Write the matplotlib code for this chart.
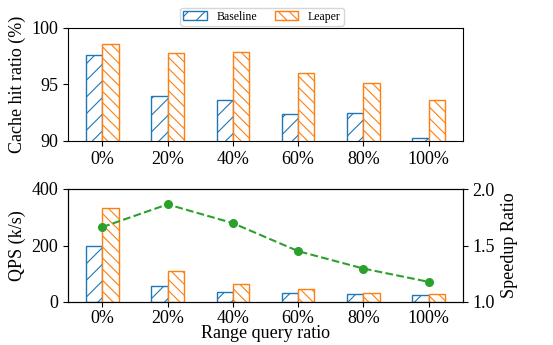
import numpy as np
import matplotlib.pyplot as plt
from matplotlib.patches import Patch

plt.rcParams['font.family'] = ['Liberation Serif', 'DejaVu Serif']
plt.rcParams['hatch.linewidth'] = 0.8

categories = ['0%', '20%', '40%', '60%', '80%', '100%']
hit_baseline = [97.63, 94.0, 93.6, 92.43, 92.5, 90.24]
hit_leaper = [98.6, 97.77, 97.9, 96.05, 95.1, 93.6]
qps_baseline = [200, 58, 37, 31, 27, 25]
qps_leaper = [331, 109, 63, 45, 33, 30]
speedup = [1.663, 1.864, 1.698, 1.45, 1.296, 1.178]

blue = '#1f77b4'
orange = '#ff7f0e'
green = '#2ca02c'
fs = 13
w = 0.25
x = np.arange(len(categories))

fig = plt.figure(figsize=(5.53, 3.45), dpi=100)
ax1 = fig.add_axes([68/553, 1-141/345, 395/553, 113/345])
ax2 = fig.add_axes([68/553, 1-302/345, 395/553, 113/345])

def bars(ax, b, l):
    ax.bar(x - w/2, b, w, facecolor='white', edgecolor=blue, hatch='//', linewidth=1)
    ax.bar(x + w/2, l, w, facecolor='white', edgecolor=orange, hatch='\\\\\\', linewidth=1)

bars(ax1, hit_baseline, hit_leaper)
ax1.set_ylim(90, 100)
ax1.set_yticks([90, 95, 100])
ax1.set_ylabel('Cache hit ratio (%)', fontsize=fs)
ax1.set_xticks(x)
ax1.set_xticklabels(categories)
ax1.tick_params(labelsize=fs)

bars(ax2, qps_baseline, qps_leaper)
ax2.set_ylim(0, 400)
ax2.set_yticks([0, 200, 400])
ax2.set_ylabel('QPS (k/s)', fontsize=fs)
ax2.set_xticks(x)
ax2.set_xticklabels(categories)
ax2.set_xlabel('Range query ratio', fontsize=fs, labelpad=-1)
ax2.tick_params(labelsize=fs)
ax2.tick_params(axis='x', pad=2)

ax3 = ax2.twinx()
ax3.plot(x, speedup, '--o', color=green, markersize=5.5, linewidth=1.5)
ax3.set_ylim(1.0, 2.0)
ax3.set_yticks([1.0, 1.5, 2.0])
ax3.set_ylabel('Speedup Ratio', fontsize=fs)
ax3.tick_params(labelsize=fs)

handles = [Patch(facecolor='white', edgecolor=blue, hatch='//', label='Baseline'),
           Patch(facecolor='white', edgecolor=orange, hatch='\\\\\\', label='Leaper')]
fig.legend(handles=handles, loc='upper center', bbox_to_anchor=(262/553, 0.995),
           ncol=2, fontsize=8.5, frameon=True, handlelength=2.0, columnspacing=1.5,
           borderpad=0.25)

fig.savefig('out.png', dpi=100)
